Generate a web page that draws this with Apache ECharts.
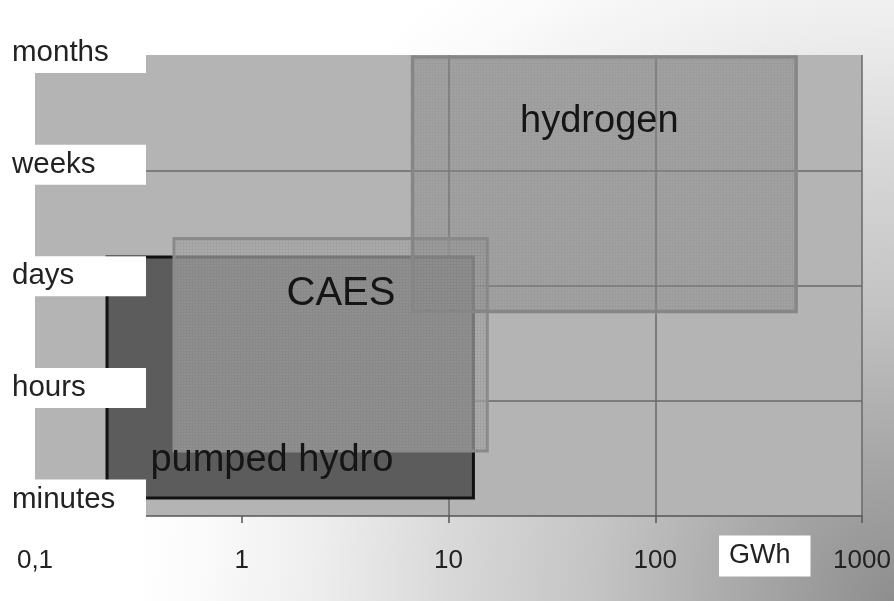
<!DOCTYPE html>
<html>
<head>
<meta charset="utf-8">
<script src="https://cdn.jsdelivr.net/npm/echarts@6/dist/echarts.min.js"></script>
<style>
  html, body { margin: 0; padding: 0; background: #fff; }
  #chart { width: 894px; height: 601px; }
</style>
</head>
<body>
<div id="chart"></div>
<script>
// Storage duration levels (y) and energy capacity ticks (x, log scale)
const durationLabels = ['minutes', 'hours', 'days', 'weeks', 'months'];
const energyTicks = [0.1, 1, 10, 100, 1000];
const energyTickLabels = ['0,1', '1', '10', '100', '1000'];
const energyUnit = 'GWh';

// Technologies: energy range (GWh) and duration range (index on the duration scale)
const technologies = ['pumped hydro', 'CAES', 'hydrogen'];
const energyFrom = [0.223, 0.470, 6.70];
const energyTo = [13.2, 15.4, 480];
const durationFrom = [0.156, 0.564, 1.774];
const durationTo = [2.247, 2.408, 3.983];

const FONT = '"Liberation Sans", Arial, sans-serif';

// fine screen-like texture used for the translucent boxes
function texture(base, line) {
  const c = document.createElement('canvas');
  c.width = 3; c.height = 3;
  const g = c.getContext('2d');
  g.fillStyle = base; g.fillRect(0, 0, 3, 3);
  g.clearRect(0, 0, 3, 1); g.clearRect(0, 1, 1, 2);
  g.fillStyle = line; g.fillRect(0, 0, 3, 1); g.fillRect(0, 1, 1, 2);
  return { image: c, repeat: 'repeat' };
}

const looks = [
  { fill: '#5c5c5c', stroke: '#111111', lineWidth: 3, fontSize: 38, lx: 0.45, ly: 0.845 },
  { fill: texture('rgba(166,166,166,0.69)', 'rgba(154,154,154,0.72)'), stroke: '#8a8a8a', lineWidth: 3, fontSize: 40, lx: 0.533, ly: 0.26 },
  { fill: texture('rgba(140,140,140,0.47)', 'rgba(132,132,132,0.5)'), stroke: '#868686', lineWidth: 3.5, fontSize: 38, lx: 0.487, ly: 0.254 }
];

function boxOf(api) {
  const topLeft = api.coord([api.value(0), api.value(3)]);
  const bottomRight = api.coord([api.value(1), api.value(2)]);
  return { x: topLeft[0], y: topLeft[1], w: bottomRight[0] - topLeft[0], h: bottomRight[1] - topLeft[1] };
}

// the boxes
function renderBox(params, api) {
  const b = boxOf(api);
  const look = looks[params.dataIndex];
  return {
    type: 'rect',
    shape: { x: b.x, y: b.y, width: b.w, height: b.h },
    style: { fill: look.fill, stroke: look.stroke, lineWidth: look.lineWidth }
  };
}

// the names, drawn above every box
function renderName(params, api) {
  const b = boxOf(api);
  const look = looks[params.dataIndex];
  return {
    type: 'text',
    x: b.x + b.w * look.lx,
    y: b.y + b.h * look.ly,
    style: {
      text: technologies[params.dataIndex],
      fontSize: look.fontSize,
      fontFamily: FONT,
      fill: '#151515',
      align: 'center',
      verticalAlign: 'middle'
    }
  };
}

const rectData = technologies.map((name, i) => [energyFrom[i], energyTo[i], durationFrom[i], durationTo[i]]);

function energyLabel(v) {
  const k = energyTicks.findIndex(t => Math.abs(Math.log10(t) - Math.log10(v)) < 1e-6);
  return k >= 0 ? energyTickLabels[k] : '';
}

const chart = echarts.init(document.getElementById('chart'), null, { renderer: 'canvas' });

chart.setOption({
  animation: false,
  textStyle: { fontFamily: FONT },
  graphic: [{
    type: 'rect',
    z: -100,
    silent: true,
    shape: { x: 0, y: 0, width: 894, height: 601 },
    style: {
      fill: {
        type: 'radial', x: 894, y: 601, r: 760, global: true,
        colorStops: [
          { offset: 0, color: '#8e8e8e' },
          { offset: 0.197, color: '#a8a8a8' },
          { offset: 0.395, color: '#c4c4c4' },
          { offset: 0.584, color: '#d8d8d8' },
          { offset: 0.763, color: '#eeeeee' },
          { offset: 0.92, color: '#fbfbfb' },
          { offset: 1, color: '#ffffff' }
        ]
      }
    }
  }],
  grid: [
    { left: 35, right: 32, top: 55, bottom: 85, show: true, backgroundColor: '#b4b4b4', borderWidth: 0 },
    { left: 0, width: 10, top: 53, bottom: 101.5, show: false }
  ],
  xAxis: [
    {
      gridIndex: 0,
      type: 'log',
      logBase: 10,
      min: 0.1,
      max: 1000,
      axisLine: { show: true, lineStyle: { color: '#555', width: 1.5 } },
      axisTick: { show: true, length: 7, customValues: energyTicks.slice(1), lineStyle: { color: '#555', width: 1.5 } },
      axisLabel: {
        show: true, margin: 32, fontSize: 26, color: '#222', fontFamily: FONT,
        formatter: energyLabel, showMinLabel: true, showMaxLabel: true
      },
      splitLine: { show: true, showMinLine: false, lineStyle: { color: '#6a6a6a', width: 1.5 } },
      name: '{s|}\n{b|' + energyUnit + '}',
      nameLocation: 'end',
      nameGap: -143,
      nameTextStyle: {
        verticalAlign: 'top',
        align: 'left',
        rich: {
          s: { height: 27, lineHeight: 27, fontSize: 10 },
          b: { fontSize: 27, lineHeight: 26, color: '#222', fontFamily: FONT, backgroundColor: '#fff', padding: [7, 20, 7, 10] }
        }
      }
    },
    { gridIndex: 1, type: 'value', show: false }
  ],
  yAxis: [
    {
      gridIndex: 0,
      type: 'value',
      min: 0,
      max: 4,
      interval: 1,
      axisLine: { show: false },
      axisTick: { show: false },
      axisLabel: { show: false },
      splitLine: { show: true, showMinLine: false, showMaxLine: false, lineStyle: { color: '#6a6a6a', width: 1.5 } }
    },
    {
      gridIndex: 1,
      type: 'category',
      data: durationLabels,
      boundaryGap: false,
      z: 10,
      axisLine: { show: false },
      axisTick: { show: false },
      splitLine: { show: false },
      axisLabel: {
        show: true,
        inside: true,
        interval: 0,
        margin: 0,
        align: 'left',
        verticalAlign: 'middle',
        fontSize: 29.5,
        fontFamily: FONT,
        color: '#222',
        backgroundColor: '#ffffff',
        width: 134,
        height: 40,
        lineHeight: 40,
        padding: [0, 0, 0, 9]
      }
    }
  ],
  series: [
    {
      type: 'custom',
      name: 'boxes',
      xAxisIndex: 0,
      yAxisIndex: 0,
      z: 2,
      renderItem: renderBox,
      encode: { x: [0, 1], y: [2, 3] },
      data: rectData
    },
    {
      type: 'custom',
      name: 'names',
      xAxisIndex: 0,
      yAxisIndex: 0,
      z: 3,
      renderItem: renderName,
      encode: { x: [0, 1], y: [2, 3] },
      data: rectData
    }
  ]
});
</script>
</body>
</html>
